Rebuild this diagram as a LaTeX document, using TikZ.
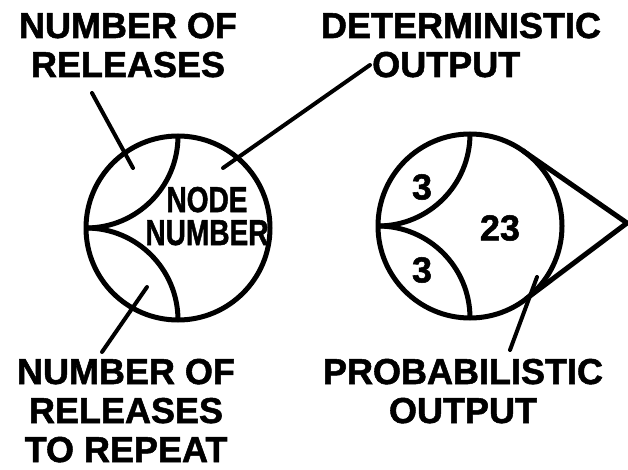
\documentclass[tikz,border=0pt]{standalone}
\usepackage{fontspec}
\setmainfont{Liberation Sans}[BoldFeatures={FakeBold=1.5}]
\usetikzlibrary{calc}
\begin{document}
\begin{tikzpicture}[x=1pt, y=1pt,
  relring/.style = {circle, draw, line width=5pt, minimum size=184pt, inner sep=0pt, outer sep=0pt},
  relarc/.style = {line width=5pt},
  relptr/.style = {line width=4pt, line cap=round},
  rellbl/.style = {font=\bfseries\fontsize{36}{39}\selectfont, align=center, anchor=base, inner sep=0pt},
  relnum/.style = {font=\bfseries\fontsize{36}{33}\selectfont, inner sep=0pt}
]
  \useasboundingbox (0,0) rectangle (628,469);
  % labels (base = last line)
  \node[rellbl] (relTop) at (128,392) {NUMBER OF\\RELEASES};
  \node[rellbl] (detTop) at (461,431) {DETERMINISTIC};
  \node[rellbl, anchor=base west] (detOut) at (372,392) {OUTPUT};
  \node[rellbl] (relBot) at (126,7) {NUMBER OF\\RELEASES\\TO REPEAT};
  \node[rellbl] (probBot) at (463,46) {PROBABILISTIC\\OUTPUT};
  % key node
  \node[relring] (lc) at (178,241) {};
  \draw[relarc] (lc.west) arc[start angle=-90, end angle=0, radius=92];
  \draw[relarc] (lc.west) arc[start angle=90, end angle=0, radius=92];
  \node[relnum, align=center, xscale=0.78, anchor=base] (lcTxt) at (207,224) {NODE\\NUMBER};
  % example node
  \node[relring] (rc) at (470,243) {};
  \coordinate (tip) at (627,246);
  \draw[relarc, line join=miter]
    (tangent cs:node=rc,point={(tip)},solution=1) -- (tip)
    -- (tangent cs:node=rc,point={(tip)},solution=2);
  \draw[relarc] (rc.west) arc[start angle=-90, end angle=0, radius=92];
  \draw[relarc] (rc.west) arc[start angle=90, end angle=0, radius=92];
  \node[relnum] (n3a) at (422,282) {3};
  \node[relnum] (n3b) at (422,199) {3};
  \node[relnum] (n23) at (500,241) {23};
  % pointers
  \coordinate (pA0) at (92,376);  \coordinate (pA1) at (133,301);
  \coordinate (pB0) at (370,404); \coordinate (pB1) at (223,301);
  \coordinate (pC0) at (102,117); \coordinate (pC1) at (147,182);
  \coordinate (pD0) at (510,119); \coordinate (pD1) at (537,192);
  \foreach \p in {A,B,C,D} {
    \draw[relptr] (p\p0) -- (p\p1);
  }
\end{tikzpicture}
\end{document}
